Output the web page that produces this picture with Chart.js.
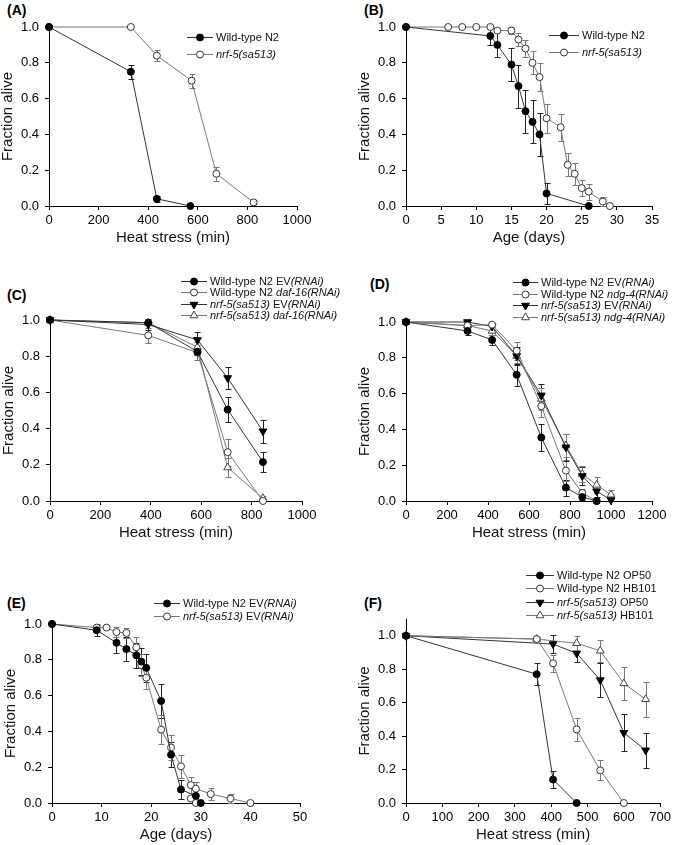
<!DOCTYPE html>
<html>
<head>
<meta charset="utf-8">
<script src="https://cdn.jsdelivr.net/npm/chart.js@4.4.1/dist/chart.umd.min.js"></script>
<style>
  body { margin: 0; background: #fff; width: 674px; height: 845px; position: relative; overflow: hidden;
         font-family: "Liberation Sans", Arial, sans-serif; }
  canvas { position: absolute; }
  .tag { position: absolute; font-weight: bold; font-size: 14px; color: #000; }
</style>
</head>
<body>
<div class="tag" style="left:7px;top:2px">(A)</div>
<div class="tag" style="left:364px;top:2px">(B)</div>
<div class="tag" style="left:7px;top:287px">(C)</div>
<div class="tag" style="left:370px;top:276px">(D)</div>
<div class="tag" style="left:7px;top:595px">(E)</div>
<div class="tag" style="left:364px;top:595px">(F)</div>

<canvas id="chartA"></canvas>
<canvas id="chartB"></canvas>
<canvas id="chartC"></canvas>
<canvas id="chartD"></canvas>
<canvas id="chartE"></canvas>
<canvas id="chartF"></canvas>

<script>
// ---- (A) heat stress
const aWtX = [0, 330, 435, 570];
const aWtY = [1.0, 0.75, 0.04, 0.0];
const aWtErr = [0, 0.04, 0.015, 0];
const aNrfX = [0, 330, 435, 575, 675, 825];
const aNrfY = [1.0, 1.0, 0.84, 0.70, 0.18, 0.02];
const aNrfErr = [0, 0, 0.03, 0.04, 0.04, 0.01];

// ---- (B) lifespan
const bWtX = [0, 12, 13, 15, 16, 17, 18, 19, 20, 26];
const bWtY = [1.0, 0.95, 0.90, 0.79, 0.67, 0.53, 0.47, 0.40, 0.07, 0.0];
const bWtErr = [0, 0.05, 0.07, 0.09, 0.12, 0.12, 0.12, 0.12, 0.06, 0];
const bNrfX = [0, 6, 8, 10, 12, 13, 15, 16, 17, 18, 19, 20, 22, 23, 24, 25, 26, 28, 29];
const bNrfY = [1.0, 1.0, 1.0, 1.0, 1.0, 0.98, 0.98, 0.93, 0.88, 0.80, 0.72, 0.49, 0.44, 0.23, 0.18, 0.10, 0.08, 0.025, 0.0];
const bNrfErr = [0, 0, 0, 0, 0, 0.01, 0.02, 0.035, 0.05, 0.065, 0.08, 0.08, 0.075, 0.065, 0.06, 0.045, 0.045, 0.025, 0];

// ---- (C) heat stress, daf-16 RNAi
const cX = [0, 390, 585, 705, 845];
const cWtEvY = [1.0, 0.985, 0.825, 0.505, 0.215];
const cWtEvErr = [0, 0.01, 0.02, 0.07, 0.055];
const cWtDafY = [1.0, 0.915, 0.82, 0.27, 0.0];
const cWtDafErr = [0, 0.04, 0.04, 0.075, 0.01];
const cNrfEvY = [1.0, 0.975, 0.89, 0.68, 0.385];
const cNrfEvErr = [0, 0.03, 0.045, 0.06, 0.065];
const cNrfDafY = [1.0, 0.985, 0.85, 0.185, 0.015];
const cNrfDafErr = [0, 0.01, 0.03, 0.05, 0.01];

// ---- (D) heat stress, ndg-4 RNAi
const dX = [0, 300, 420, 540, 660, 780, 860, 930, 1000];
const dWtEvY = [1.0, 0.95, 0.90, 0.705, 0.355, 0.075, 0.022, 0.0, null];
const dWtEvErr = [0, 0.02, 0.03, 0.06, 0.075, 0.045, 0.015, 0, 0];
const dWtNdgY = [1.0, 0.98, 0.985, 0.84, 0.53, 0.17, 0.045, 0.0, null];
const dWtNdgErr = [0, 0, 0.01, 0.05, 0.06, 0.06, 0.02, 0, 0];
const dNrfEvY = [1.0, 1.0, 0.975, 0.81, 0.59, 0.30, 0.14, 0.055, 0.005];
const dNrfEvErr = [0, 0.01, 0.02, 0.05, 0.065, 0.075, 0.05, 0.03, 0.01];
const dNrfNdgY = [1.0, 0.98, 0.95, 0.81, 0.57, 0.31, 0.15, 0.09, 0.035];
const dNrfNdgErr = [0, 0.01, 0.02, 0.04, 0.06, 0.065, 0.045, 0.045, 0.025];

// ---- (E) lifespan on RNAi
const eWtX = [0, 9, 13, 15, 17, 18, 19, 22, 24, 26, 29, 30];
const eWtY = [1.0, 0.965, 0.895, 0.86, 0.825, 0.79, 0.755, 0.57, 0.27, 0.075, 0.04, 0.0];
const eWtErr = [0, 0.03, 0.055, 0.065, 0.07, 0.075, 0.08, 0.095, 0.07, 0.055, 0.03, 0];
const eNrfX = [0, 9, 11, 13, 15, 17, 18, 19, 22, 24, 26, 28, 29, 32, 36, 40];
const eNrfY = [1.0, 0.98, 0.98, 0.955, 0.95, 0.87, 0.77, 0.70, 0.41, 0.31, 0.205, 0.10, 0.08, 0.05, 0.025, 0.0];
const eNrfErr = [0, 0.02, 0, 0.03, 0.03, 0.055, 0.06, 0.065, 0.08, 0.07, 0.065, 0.045, 0.04, 0.035, 0.025, 0];
const eExtraX = [28, 29];
const eExtraY = [0.025, 0.0];

// ---- (F) heat stress on OP50 / HB101
const fWtOpX = [0, 360, 405, 470];
const fWtOpY = [1.0, 0.77, 0.14, 0.0];
const fWtOpErr = [0, 0.065, 0.05, 0];
const fWtHbX = [0, 360, 405, 470, 535, 600];
const fWtHbY = [1.0, 0.98, 0.835, 0.44, 0.195, 0.0];
const fWtHbErr = [0, 0.01, 0.05, 0.07, 0.06, 0];
const fNrfOpX = [0, 405, 470, 535, 600, 660];
const fNrfOpY = [1.0, 0.95, 0.895, 0.735, 0.42, 0.315];
const fNrfOpErr = [0, 0.055, 0.05, 0.10, 0.11, 0.105];
const fNrfHbX = [0, 360, 470, 535, 600, 660];
const fNrfHbY = [1.0, 0.98, 0.955, 0.91, 0.715, 0.62];
const fNrfHbErr = [0, 0, 0.045, 0.065, 0.10, 0.105];

Chart.defaults.font.family = '"Liberation Sans", Arial, sans-serif';
Chart.defaults.color = '#000';

const STYLES = {
  fc: { pointStyle: 'circle', pointRadius: 3.5, bg: '#000', border: '#000', line: '#333', err: '#222', rot: 0 },
  oc: { pointStyle: 'circle', pointRadius: 3.5, bg: '#fff', border: '#333', line: '#777', err: '#777', rot: 0 },
  ft: { pointStyle: 'triangle', pointRadius: 4.5, bg: '#000', border: '#000', line: '#333', err: '#222', rot: 180 },
  ot: { pointStyle: 'triangle', pointRadius: 4.5, bg: '#fff', border: '#444', line: '#777', err: '#777', rot: 0 }
};

// label: '|' toggles italic
function series(label, xs, ys, err, kind, noLine) {
  const s = STYLES[kind];
  return {
    label: label,
    data: xs.map((x, i) => ({ x: x, y: ys[i] })),
    err: err,
    errColor: s.err,
    borderColor: s.line,
    borderWidth: 1,
    showLine: !noLine,
    pointStyle: s.pointStyle,
    pointRadius: s.pointRadius,
    pointHoverRadius: s.pointRadius,
    pointRotation: s.rot,
    pointBackgroundColor: s.bg,
    pointBorderColor: s.border,
    pointBorderWidth: 1,
    tension: 0,
    clip: false
  };
}

function drawMarker(ctx, ds, x, y) {
  const r = ds.pointRadius;
  ctx.beginPath();
  if (ds.pointStyle === 'circle') {
    ctx.arc(x, y, r, 0, Math.PI * 2);
  } else {
    const d = ds.pointRotation ? -1 : 1;
    ctx.moveTo(x, y - d * r);
    ctx.lineTo(x + r * 0.866, y + d * r / 2);
    ctx.lineTo(x - r * 0.866, y + d * r / 2);
    ctx.closePath();
  }
  ctx.fillStyle = ds.pointBackgroundColor;
  ctx.fill();
  ctx.lineWidth = 1;
  ctx.strokeStyle = ds.pointBorderColor;
  ctx.stroke();
}

const errorBars = {
  id: 'errorBars',
  beforeDatasetsDraw(chart) {
    const { ctx, scales: { x, y } } = chart;
    chart.data.datasets.forEach(ds => {
      if (!ds.err) return;
      ctx.save();
      ctx.strokeStyle = ds.errColor;
      ctx.lineWidth = 1;
      ds.data.forEach((p, i) => {
        const e = ds.err[i];
        if (!e || p.y == null) return;
        const px = Math.round(x.getPixelForValue(p.x)) + 0.5;
        const top = Math.round(y.getPixelForValue(p.y + e)) + 0.5;
        const bot = Math.round(y.getPixelForValue(Math.max(p.y - e, 0))) + 0.5;
        ctx.beginPath();
        ctx.moveTo(px, top); ctx.lineTo(px, bot);
        ctx.moveTo(px - 3, top); ctx.lineTo(px + 3, top);
        ctx.moveTo(px - 3, bot); ctx.lineTo(px + 3, bot);
        ctx.stroke();
      });
      ctx.restore();
    });
  }
};

const panelLegend = {
  id: 'panelLegend',
  afterDraw(chart, args, opts) {
    if (!opts.rows) return;
    const ctx = chart.ctx;
    let row = 0;
    chart.data.datasets.forEach(ds => {
      if (!ds.label) return;
      const y = opts.rows[row++] + 0.5;
      ctx.save();
      ctx.strokeStyle = ds.borderColor;
      ctx.lineWidth = 1;
      ctx.beginPath();
      ctx.moveTo(opts.x0, y); ctx.lineTo(opts.x1, y);
      ctx.stroke();
      drawMarker(ctx, ds, (opts.x0 + opts.x1) / 2, y);
      let tx = opts.tx;
      ctx.fillStyle = '#111';
      ctx.textBaseline = 'middle';
      ds.label.split('|').forEach((part, i) => {
        ctx.font = (i % 2 ? 'italic ' : '') + '11px "Liberation Sans", Arial, sans-serif';
        ctx.fillText(part, tx, y);
        tx += ctx.measureText(part).width;
      });
      ctx.restore();
    });
  }
};

// area = chart area in page pixels; legend in page pixels
function makePanel(id, p) {
  const yW = 50, xH = 41;
  const left = p.area.l - yW - 2;
  const top = p.top;
  const width = p.right - left;
  const height = p.area.b + xH + 6 - top;
  const cv = document.getElementById(id);
  cv.width = width; cv.height = height;
  cv.style.left = left + 'px'; cv.style.top = top + 'px';
  cv.style.width = width + 'px'; cv.style.height = height + 'px';

  const lg = p.legend;
  new Chart(cv.getContext('2d'), {
    type: 'line',
    data: { datasets: p.datasets },
    options: {
      responsive: false,
      animation: false,
      devicePixelRatio: 1,
      layout: { padding: { left: 2, top: p.area.t - top, right: p.right - p.area.r, bottom: 6 } },
      plugins: {
        legend: { display: false },
        tooltip: { enabled: false },
        panelLegend: {
          rows: lg.rows.map(r => r - top),
          x0: lg.x0 - left, x1: lg.x1 - left, tx: lg.tx - left
        }
      },
      scales: {
        x: {
          type: 'linear', min: 0, max: p.xMax,
          ticks: { stepSize: p.xStep, padding: 3, maxRotation: 0, autoSkip: false, font: { size: 13 },
                   callback: v => String(v) },
          grid: { drawOnChartArea: false, tickLength: 4, color: '#000' },
          border: { color: '#000' },
          title: { display: true, text: p.xTitle, font: { size: 15 }, padding: 0, color: '#111' },
          afterFit: s => { s.height = xH; }
        },
        y: {
          type: 'linear', min: 0, max: p.yMax || 1,
          ticks: { stepSize: 0.2, padding: 6, font: { size: 13 }, callback: v => v.toFixed(1) },
          afterBuildTicks: s => { s.ticks = s.ticks.filter(t => t.value <= 1.0001); },
          grid: { drawOnChartArea: false, tickLength: 4, color: '#000' },
          border: { color: '#000' },
          title: { display: true, text: 'Fraction alive', font: { size: 15 }, padding: 0, color: '#111' },
          afterFit: s => { s.width = yW; }
        }
      }
    },
    plugins: [errorBars, panelLegend]
  });
}

makePanel('chartA', {
  top: 0, right: 337, area: { l: 49, t: 27, r: 297, b: 206 },
  xMax: 1000, xStep: 200, xTitle: 'Heat stress (min)',
  legend: { rows: [37, 54], x0: 187, x1: 213, tx: 216 },
  datasets: [
    series('Wild-type N2', aWtX, aWtY, aWtErr, 'fc'),
    series('|nrf-5(sa513)|', aNrfX, aNrfY, aNrfErr, 'oc')
  ]
});

makePanel('chartB', {
  top: 0, right: 674, area: { l: 406, t: 27, r: 652, b: 206 },
  xMax: 35, xStep: 5, xTitle: 'Age (days)',
  legend: { rows: [35, 52], x0: 549, x1: 579, tx: 582 },
  datasets: [
    series('Wild-type N2', bWtX, bWtY, bWtErr, 'fc'),
    series('|nrf-5(sa513)|', bNrfX, bNrfY, bNrfErr, 'oc')
  ]
});

makePanel('chartC', {
  top: 268, right: 352, area: { l: 50, t: 320, r: 302, b: 501 },
  xMax: 1000, xStep: 200, xTitle: 'Heat stress (min)',
  legend: { rows: [281, 292, 304, 315], x0: 181, x1: 207, tx: 210 },
  datasets: [
    series('Wild-type N2 EV|(RNAi)|', cX, cWtEvY, cWtEvErr, 'fc'),
    series('Wild-type N2 |daf-16(RNAi)|', cX, cWtDafY, cWtDafErr, 'oc'),
    series('|nrf-5(sa513)| EV|(RNAi)|', cX, cNrfEvY, cNrfEvErr, 'ft'),
    series('|nrf-5(sa513) daf-16(RNAi)|', cX, cNrfDafY, cNrfDafErr, 'ot')
  ]
});

makePanel('chartD', {
  top: 268, right: 674, area: { l: 406, t: 322, r: 652, b: 501 },
  xMax: 1200, xStep: 200, xTitle: 'Heat stress (min)',
  legend: { rows: [282, 294, 305, 317], x0: 513, x1: 538, tx: 541 },
  datasets: [
    series('Wild-type N2 EV|(RNAi)|', dX, dWtEvY, dWtEvErr, 'fc'),
    series('Wild-type N2 |ndg-4(RNAi)|', dX, dWtNdgY, dWtNdgErr, 'oc'),
    series('|nrf-5(sa513)| EV|(RNAi)|', dX, dNrfEvY, dNrfEvErr, 'ft'),
    series('|nrf-5(sa513) ndg-4(RNAi)|', dX, dNrfNdgY, dNrfNdgErr, 'ot')
  ]
});

makePanel('chartE', {
  top: 560, right: 337, area: { l: 52, t: 624, r: 300, b: 803 },
  xMax: 50, xStep: 10, xTitle: 'Age (days)',
  legend: { rows: [603, 616], x0: 154, x1: 180, tx: 183 },
  datasets: [
    series('Wild-type N2 EV|(RNAi)|', eWtX, eWtY, eWtErr, 'fc'),
    series('|nrf-5(sa513)| EV|(RNAi)|', eNrfX, eNrfY, eNrfErr, 'oc'),
    series(null, eExtraX, eExtraY, null, 'oc', true)
  ]
});

makePanel('chartF', {
  top: 560, right: 674, area: { l: 406, t: 619, r: 662, b: 803 }, yMax: 1.1,
  xMax: 700, xStep: 100, xTitle: 'Heat stress (min)',
  legend: { rows: [575, 588, 602, 615], x0: 526, x1: 554, tx: 557 },
  datasets: [
    series('Wild-type N2 OP50', fWtOpX, fWtOpY, fWtOpErr, 'fc'),
    series('Wild-type N2 HB101', fWtHbX, fWtHbY, fWtHbErr, 'oc'),
    series('|nrf-5(sa513)| OP50', fNrfOpX, fNrfOpY, fNrfOpErr, 'ft'),
    series('|nrf-5(sa513)| HB101', fNrfHbX, fNrfHbY, fNrfHbErr, 'ot')
  ]
});
</script>
</body>
</html>
